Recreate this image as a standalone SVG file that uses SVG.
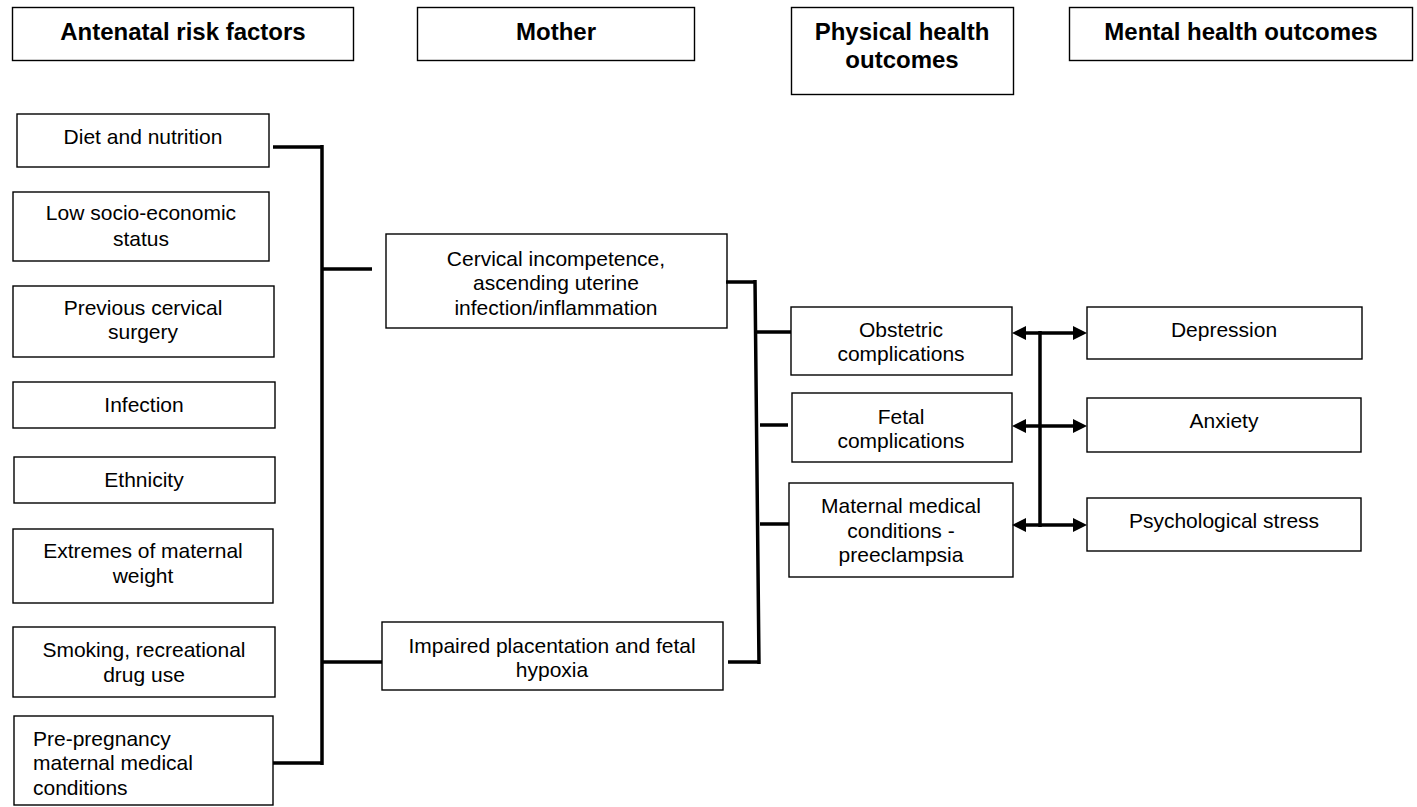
<svg xmlns="http://www.w3.org/2000/svg" width="1417" height="807" viewBox="0 0 1417 807">
<style>
.box{fill:#fff;stroke:#000;stroke-width:1.4}
.hd{font-family:"Liberation Sans",Arial,sans-serif;font-size:24px;font-weight:bold;fill:#000;text-anchor:middle}
.t{font-family:"Liberation Sans",Arial,sans-serif;font-size:21px;fill:#000;text-anchor:middle}
.tl{font-family:"Liberation Sans",Arial,sans-serif;font-size:21px;fill:#000;text-anchor:start}
.ln{fill:none;stroke:#000;stroke-width:3.5}
</style>
<defs>
<marker id="ah" markerUnits="userSpaceOnUse" markerWidth="16" markerHeight="16" refX="3" refY="7" orient="auto-start-reverse">
<path d="M0,0 L14,7 L0,14 z" fill="#000"/>
</marker>
</defs>
<rect width="1417" height="807" fill="#fff"/>

<g id="h-antenatal"><rect class="box" x="12.5" y="7.5" width="341" height="53"/><text class="hd" x="183" y="40">Antenatal risk factors</text></g>
<g id="h-mother"><rect class="box" x="417.5" y="7.5" width="277" height="53"/><text class="hd" x="556" y="40">Mother</text></g>
<g id="h-physical"><rect class="box" x="791.5" y="7.5" width="222" height="87"/><text class="hd" x="902" y="40">Physical health</text><text class="hd" x="902" y="68">outcomes</text></g>
<g id="h-mental"><rect class="box" x="1069.5" y="7.5" width="343" height="53"/><text class="hd" x="1241" y="40">Mental health outcomes</text></g>

<g id="n-diet"><rect class="box" x="17" y="114" width="252" height="53"/><text class="t" x="143" y="144">Diet and nutrition</text></g>
<g id="n-lowses"><rect class="box" x="13" y="192" width="256" height="69"/><text class="t" x="141" y="220">Low socio-economic</text><text class="t" x="141" y="246">status</text></g>
<g id="n-prevsurg"><rect class="box" x="13" y="286" width="261" height="71"/><text class="t" x="143" y="315">Previous cervical</text><text class="t" x="143" y="339">surgery</text></g>
<g id="n-infection"><rect class="box" x="13" y="382" width="262" height="46"/><text class="t" x="144" y="412">Infection</text></g>
<g id="n-ethnicity"><rect class="box" x="14" y="457" width="261" height="46"/><text class="t" x="144" y="487">Ethnicity</text></g>
<g id="n-weight"><rect class="box" x="13" y="529" width="260" height="74"/><text class="t" x="143" y="558">Extremes of maternal</text><text class="t" x="143" y="583">weight</text></g>
<g id="n-smoking"><rect class="box" x="13" y="627" width="262" height="70"/><text class="t" x="144" y="657">Smoking, recreational</text><text class="t" x="144" y="682">drug use</text></g>
<g id="n-prepreg"><rect class="box" x="14" y="716" width="259" height="89"/><text class="tl" x="33" y="746">Pre-pregnancy</text><text class="tl" x="33" y="770">maternal medical</text><text class="tl" x="33" y="795">conditions</text></g>

<g id="n-cervical"><rect class="box" x="386" y="234" width="341" height="94"/><text class="t" x="556" y="266">Cervical incompetence,</text><text class="t" x="556" y="290">ascending uterine</text><text class="t" x="556" y="315">infection/inflammation</text></g>
<g id="n-placenta"><rect class="box" x="382" y="622" width="341" height="68"/><text class="t" x="552" y="653">Impaired placentation and fetal</text><text class="t" x="552" y="677">hypoxia</text></g>

<g id="n-obstetric"><rect class="box" x="791" y="307" width="221" height="68"/><text class="t" x="901" y="337">Obstetric</text><text class="t" x="901" y="361">complications</text></g>
<g id="n-fetal"><rect class="box" x="792" y="393" width="220" height="69"/><text class="t" x="901" y="424">Fetal</text><text class="t" x="901" y="448">complications</text></g>
<g id="n-maternal"><rect class="box" x="789" y="483" width="224" height="94"/><text class="t" x="901" y="513">Maternal medical</text><text class="t" x="901" y="538">conditions -</text><text class="t" x="901" y="562">preeclampsia</text></g>

<g id="n-depression"><rect class="box" x="1087" y="307" width="275" height="52"/><text class="t" x="1224" y="337">Depression</text></g>
<g id="n-anxiety"><rect class="box" x="1087" y="398" width="274" height="54"/><text class="t" x="1224" y="428">Anxiety</text></g>
<g id="n-stress"><rect class="box" x="1087" y="498" width="274" height="53"/><text class="t" x="1224" y="528">Psychological stress</text></g>

<g id="connectors">
<path class="ln" d="M273,147 H322 M322,145 V765 M322,269 H372 M322,662 H382 M273,763 H322"/>
<path class="ln" d="M726,282 H755 M755,280 L759,664 M728,662 H759 M756,332 H791 M760,425 H788 M760,524 H789"/>
<path class="ln" d="M1040,331 V527"/>
<line class="ln" x1="1023" y1="333" x2="1076" y2="333" marker-start="url(#ah)" marker-end="url(#ah)"/>
<line class="ln" x1="1023" y1="426" x2="1076" y2="426" marker-start="url(#ah)" marker-end="url(#ah)"/>
<line class="ln" x1="1023" y1="525" x2="1076" y2="525" marker-start="url(#ah)" marker-end="url(#ah)"/>
</g>
</svg>
